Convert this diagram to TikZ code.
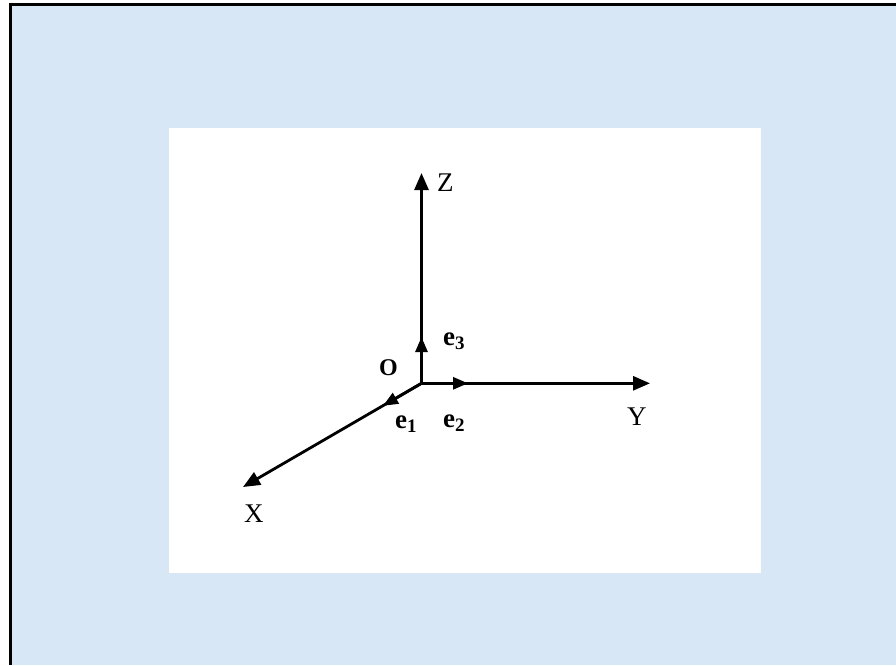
\documentclass[tikz,border=0pt]{standalone}
\usepackage{fontspec}
\setmainfont{Liberation Serif}
\usetikzlibrary{arrows.meta}
\definecolor{paper}{RGB}{216,231,246}
\tikzset{
  axis/.style={line width=2.8pt,-{Triangle[length=17pt,width=14pt]}},
  unitvec/.style={line width=2.8pt,-{Triangle[length=15pt,width=12pt]}},
  axlab/.style={inner sep=0pt,anchor=base west,font=\fontsize{27}{27}\selectfont},
  veclab/.style={inner sep=0pt,anchor=base west,font=\fontsize{27}{27}\selectfont\bfseries},
}
\newcommand\vsub[1]{\raisebox{-4pt}{\fontsize{19}{19}\selectfont\bfseries #1}}
\begin{document}
\begin{tikzpicture}[x=1pt,y=-1pt]
\useasboundingbox (0,0) rectangle (896,665);
\fill[white] (0,0) rectangle (896,665);
\fill[paper] (10,4) rectangle (896,665);
\draw[line width=3pt] (9,4) -- (896,4);
\draw[line width=3pt] (10.5,2.5) -- (10.5,665);
\fill[white] (169,128) rectangle (761,573);
% axes
\coordinate (O) at (421.5,383.3);
\coordinate (Zt) at (421.5,173);
\coordinate (Yt) at (650,383.3);
\coordinate (Xt) at (243,487);
\coordinate (e3t) at (421.5,337);
\coordinate (e2t) at (468,383.3);
\coordinate (e1t) at (383,405.8);
\draw[axis] (O) -- (Zt);
\draw[axis] (O) -- (Yt);
\draw[axis] (O) -- (Xt);
\draw[unitvec] (O) -- (e3t);
\draw[unitvec] (O) -- (e2t);
\draw[unitvec] (O) -- (e1t);
% labels
\node[axlab] (Zl) at (437,191) {Z};
\node[axlab] (Yl) at (627,425) {Y};
\node[axlab] (Xl) at (244,522) {X};
\node[inner sep=0pt,anchor=base west,font=\fontsize{24}{24}\selectfont\bfseries] (Ol) at (379,375) {O};
\node[veclab] (e3l) at (443,345) {e\vsub{3}};
\node[veclab] (e2l) at (443,427) {e\vsub{2}};
\node[veclab] (e1l) at (395,428) {e\vsub{1}};
\end{tikzpicture}
\end{document}
